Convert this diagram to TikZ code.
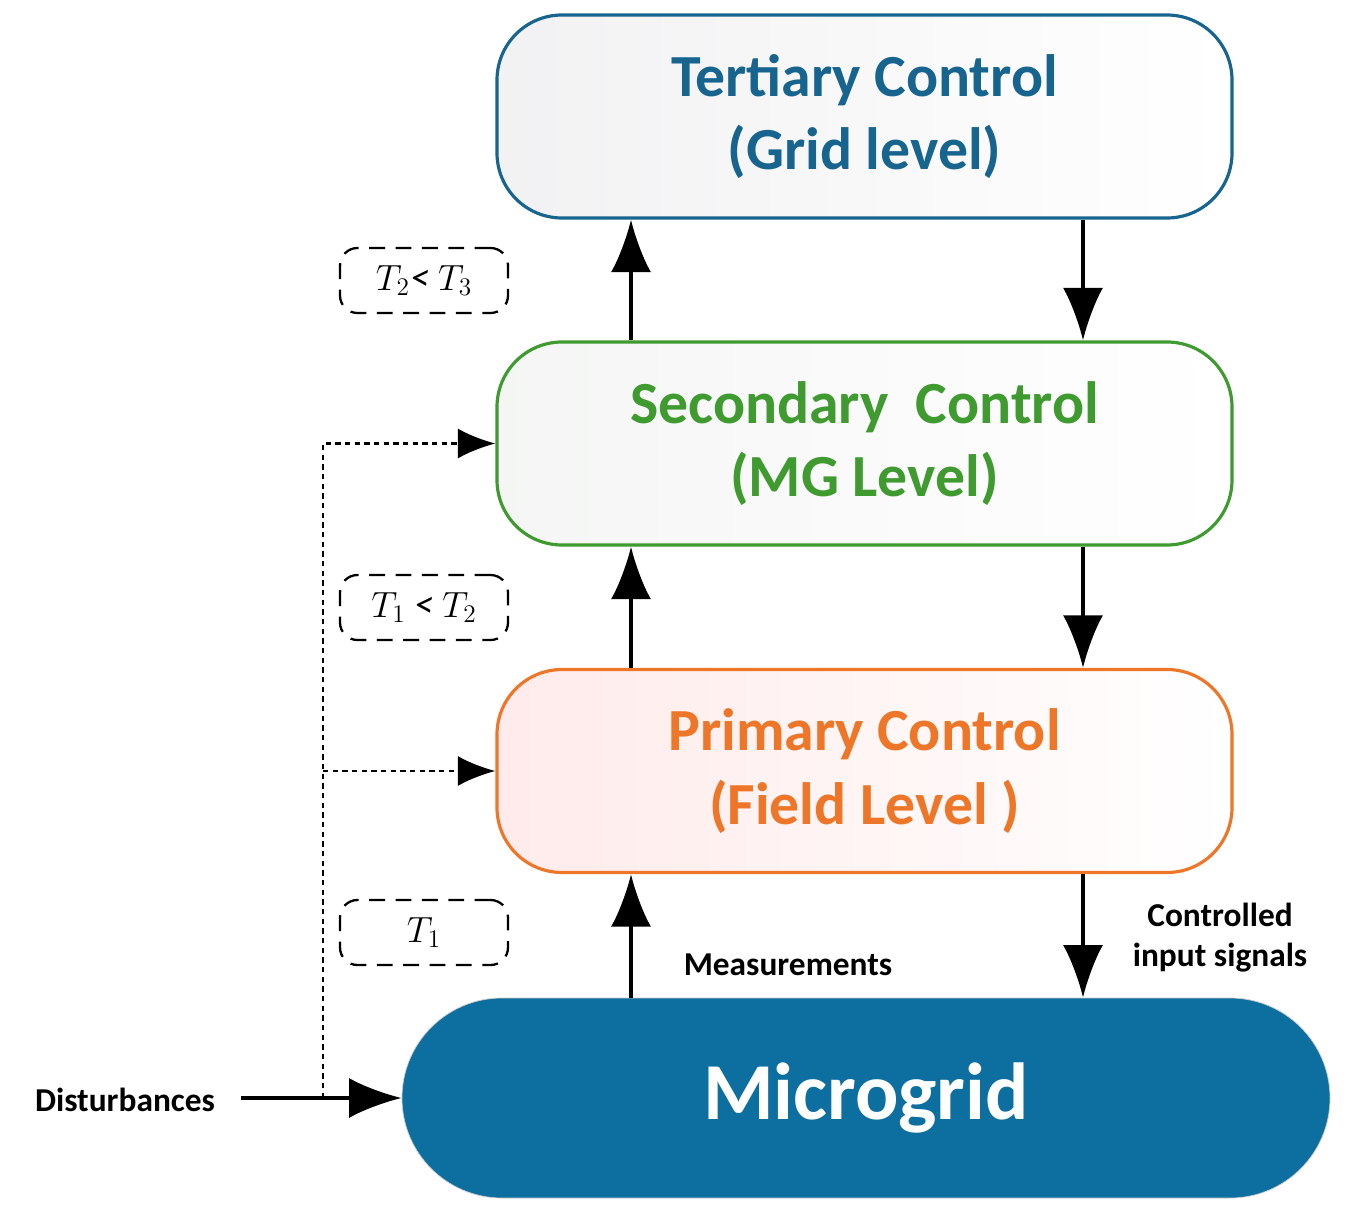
\documentclass[tikz,border=0pt]{standalone}
\usepackage{fontspec}
\setmainfont{Carlito}
\usetikzlibrary{arrows.meta,positioning}
\definecolor{tblue}{HTML}{17648F}
\definecolor{sgreen}{HTML}{3F9A2F}
\definecolor{porange}{HTML}{ED7628}
\definecolor{mblue}{HTML}{0C6F9F}
\tikzset{
  level/.style={draw, line width=1.8pt, rounded corners=1.3cm, minimum width=14.7cm, minimum height=4.06cm, align=center, font=\fontsize{34}{42}\selectfont\bfseries},
  tlim/.style={draw, dashed, line width=1.3pt, dash pattern=on 9pt off 6pt, rounded corners=0.35cm, minimum width=3.36cm, minimum height=1.3cm, font=\fontsize{22}{26}\selectfont\itshape},
  lab/.style={font=\fontsize{19}{23}\selectfont\bfseries, align=center},
  flow/.style={-{Latex[length=1.05cm,width=0.8cm]}, line width=2.3pt},
  feed/.style={-{Latex[length=0.75cm,width=0.6cm]}, line width=1.6pt, dash pattern=on 3pt off 2.5pt}
}
\begin{document}
\begin{tikzpicture}[>=latex]
\useasboundingbox (0,0) rectangle (27.04,-24.54);
%% control levels
\node (tert) at (17.29,-2.33) [level, tblue, left color=blue!6!gray!10, right color=white] {Tertiary Control\\(Grid level)};
\node (sec) at (17.29,-8.87) [level, sgreen, left color=green!6!gray!8, right color=white] {Secondary~ Control\\(MG Level)};
\node (prim) at (17.29,-15.42) [level, porange, left color=red!8, right color=white] {Primary Control\\(Field Level )};
\node (mg) at (17.32,-21.96) [draw=gray!40, fill=mblue, text=white, rounded corners=2cm, minimum width=18.56cm, minimum height=4.0cm, font=\fontsize{46}{54}\selectfont\bfseries] {Microgrid};
%% time scales
\node (t23) at (8.48,-5.61) [tlim] {$T_2$< $T_3$};
\node (t12) at (8.48,-12.15) [tlim] {$T_1$ < $T_2$};
\node (t1) at (8.48,-18.65) [tlim] {$T_1$};
%% labels
\node (meas) at (15.76,-19.3) [lab] {Measurements};
\node (ctrl) at (24.4,-18.75) [lab] {Controlled\\input signals};
\node (dist) at (2.5,-22.0) [lab] {Disturbances};
\coordinate (split) at (6.46,-21.96);
%% arrows
\draw [flow] (mg.north -| 12.62,0) -- (prim.south -| 12.62,0);
\draw [flow] (prim.north -| 12.62,0) -- (sec.south -| 12.62,0);
\draw [flow] (sec.north -| 12.62,0) -- (tert.south -| 12.62,0);
\draw [flow] (tert.south -| 21.66,0) -- (sec.north -| 21.66,0);
\draw [flow] (sec.south -| 21.66,0) -- (prim.north -| 21.66,0);
\draw [flow] (prim.south -| 21.66,0) -- (mg.north -| 21.66,0);
\draw [flow] (dist.east) ++(0.4,0) coordinate (d0) (d0 |- mg.west) -- (mg.west);
\draw [feed] (split) |- (sec.west);
\draw [feed] (split |- prim.west) -- (prim.west);
\end{tikzpicture}
\end{document}
